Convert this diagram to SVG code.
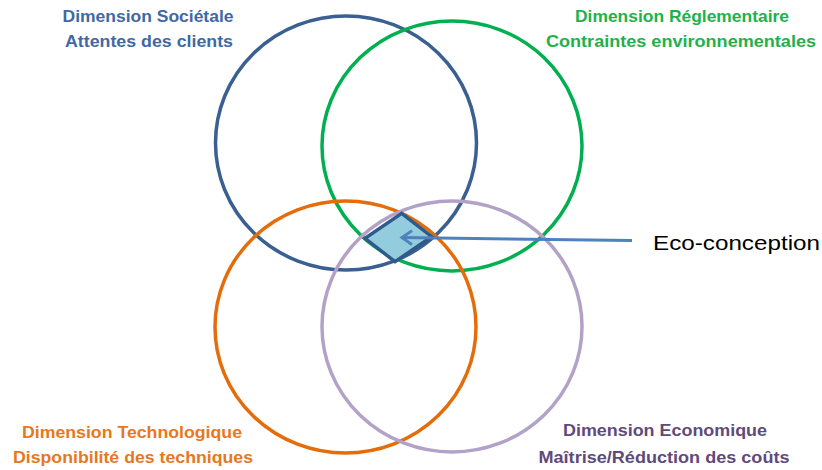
<svg xmlns="http://www.w3.org/2000/svg" width="822" height="470" viewBox="0 0 822 470">
<defs>
<style>
.ring{fill:none;stroke-width:3.5}
.lbl{font-family:"Liberation Sans",Arial,sans-serif;font-weight:bold;font-size:16.5px;text-anchor:middle}
</style>
<marker id="ah" markerUnits="userSpaceOnUse" markerWidth="20" markerHeight="20" refX="11" refY="10" orient="auto" overflow="visible">
<path d="M1,3 L11,10 L1,17" fill="none" stroke="#4F81BD" stroke-width="3" stroke-linejoin="miter"/>
</marker>
</defs>
<rect width="822" height="470" fill="#ffffff"/>
<g id="societale">
<ellipse class="ring" cx="346" cy="143" rx="130.5" ry="127" stroke="#3A5F91"/>
<text class="lbl" x="148" y="22" fill="#3F69A3" textLength="171" lengthAdjust="spacingAndGlyphs">Dimension Sociétale</text>
<text class="lbl" x="149" y="47" fill="#3F69A3" textLength="168" lengthAdjust="spacingAndGlyphs">Attentes des clients</text>
</g>
<g id="reglementaire">
<ellipse class="ring" cx="452" cy="146" rx="130" ry="125" stroke="#00B050"/>
<text class="lbl" x="682" y="22" fill="#1FB14A" textLength="214" lengthAdjust="spacingAndGlyphs">Dimension Réglementaire</text>
<text class="lbl" x="681" y="47" fill="#1FB14A" textLength="270" lengthAdjust="spacingAndGlyphs">Contraintes environnementales</text>
</g>
<g id="technologique">
<ellipse class="ring" cx="345.5" cy="327" rx="130.5" ry="126" stroke="#E46C0A"/>
<text class="lbl" x="132" y="438" fill="#E87722" textLength="220" lengthAdjust="spacingAndGlyphs">Dimension Technologique</text>
<text class="lbl" x="133" y="463" fill="#E87722" textLength="240" lengthAdjust="spacingAndGlyphs">Disponibilité des techniques</text>
</g>
<g id="economique">
<ellipse class="ring" cx="452" cy="326.5" rx="130" ry="125.5" stroke="#B3A2C7"/>
<text class="lbl" x="665" y="436" fill="#604A7B" textLength="204" lengthAdjust="spacingAndGlyphs">Dimension Economique</text>
<text class="lbl" x="664" y="463" fill="#604A7B" textLength="251" lengthAdjust="spacingAndGlyphs">Maîtrise/Réduction des coûts</text>
</g>
<g id="ecoconception">
<polygon points="401.7,213.3 431.7,236.7 395,261.7 365,238.3" fill="#93CDDD" stroke="#2E5A8C" stroke-width="3.5" stroke-linejoin="miter"/>
<text x="653" y="250" font-family="Liberation Sans,Arial,sans-serif" font-size="21" fill="#000000" textLength="167" lengthAdjust="spacingAndGlyphs">Eco-conception</text>
</g>
<g id="connectors">
<line x1="632" y1="240.5" x2="402" y2="237.5" stroke="#4F81BD" stroke-width="3" marker-end="url(#ah)"/>
</g>
</svg>
